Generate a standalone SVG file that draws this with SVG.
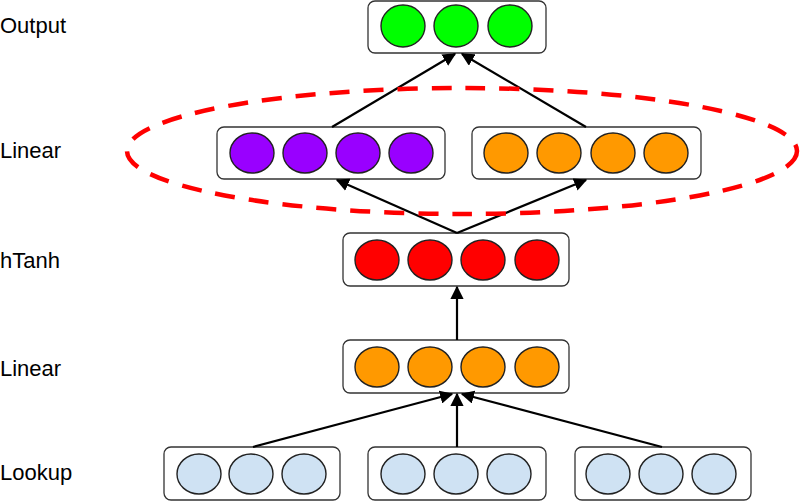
<svg xmlns="http://www.w3.org/2000/svg" width="800" height="502" viewBox="0 0 800 502">
<defs>
<style>
.box{fill:#fff;stroke:#333;stroke-width:1.3}
.c{stroke:#222;stroke-width:1.4}
.g{fill:#00ff00}.p{fill:#9900ff}.o{fill:#ff9900}.r{fill:#ff0000}.b{fill:#cfe2f3}
.lbl{font-family:"Liberation Sans",Arial,sans-serif;font-size:22px;fill:#000}
.e{stroke:#000;stroke-width:2.2;fill:none;marker-end:url(#ah)}
</style>
<marker id="ah" viewBox="0 0 10 10" refX="9" refY="5" markerWidth="6" markerHeight="6" markerUnits="strokeWidth" orient="auto">
<path d="M0,0 L10,5 L0,10 z" fill="#000"/>
</marker>
</defs>
<rect width="800" height="502" fill="#fff"/>
<g id="labels">
<text class="lbl" x="0" y="33">Output</text>
<text class="lbl" x="0" y="158">Linear</text>
<text class="lbl" x="0" y="268">hTanh</text>
<text class="lbl" x="0" y="376">Linear</text>
<text class="lbl" x="0" y="480">Lookup</text>
</g>
<g id="output">
<rect class="box" x="368" y="1" width="178" height="52" rx="7"/>
<ellipse class="c g" cx="403" cy="26" rx="22" ry="21"/>
<ellipse class="c g" cx="456" cy="26" rx="22" ry="21"/>
<ellipse class="c g" cx="510" cy="26" rx="22" ry="21"/>
</g>
<g id="linear-purple">
<rect class="box" x="217" y="127" width="228" height="52" rx="7"/>
<ellipse class="c p" cx="252" cy="153" rx="22" ry="20"/>
<ellipse class="c p" cx="305" cy="153" rx="22" ry="20"/>
<ellipse class="c p" cx="358" cy="153" rx="22" ry="20"/>
<ellipse class="c p" cx="411" cy="153" rx="22" ry="20"/>
</g>
<g id="linear-orange-top">
<rect class="box" x="472" y="127" width="229" height="52" rx="7"/>
<ellipse class="c o" cx="506" cy="153" rx="22" ry="20"/>
<ellipse class="c o" cx="559" cy="153" rx="22" ry="20"/>
<ellipse class="c o" cx="613" cy="153" rx="22" ry="20"/>
<ellipse class="c o" cx="666" cy="153" rx="22" ry="20"/>
</g>
<g id="htanh">
<rect class="box" x="343" y="233" width="226" height="53" rx="7"/>
<ellipse class="c r" cx="377" cy="260" rx="22" ry="20"/>
<ellipse class="c r" cx="430" cy="260" rx="22" ry="20"/>
<ellipse class="c r" cx="483" cy="260" rx="22" ry="20"/>
<ellipse class="c r" cx="537" cy="260" rx="22" ry="20"/>
</g>
<g id="linear-orange-bottom">
<rect class="box" x="343" y="340" width="226" height="53" rx="7"/>
<ellipse class="c o" cx="377" cy="367" rx="22" ry="20"/>
<ellipse class="c o" cx="430" cy="367" rx="22" ry="20"/>
<ellipse class="c o" cx="483" cy="367" rx="22" ry="20"/>
<ellipse class="c o" cx="537" cy="367" rx="22" ry="20"/>
</g>
<g id="lookup-1">
<rect class="box" x="164" y="447" width="176" height="53" rx="7"/>
<ellipse class="c b" cx="199" cy="474" rx="22" ry="20"/>
<ellipse class="c b" cx="251" cy="474" rx="22" ry="20"/>
<ellipse class="c b" cx="304" cy="474" rx="22" ry="20"/>
</g>
<g id="lookup-2">
<rect class="box" x="368" y="447" width="178" height="53" rx="7"/>
<ellipse class="c b" cx="403" cy="474" rx="22" ry="20"/>
<ellipse class="c b" cx="456" cy="474" rx="22" ry="20"/>
<ellipse class="c b" cx="509" cy="474" rx="22" ry="20"/>
</g>
<g id="lookup-3">
<rect class="box" x="575" y="447" width="176" height="53" rx="7"/>
<ellipse class="c b" cx="608" cy="474" rx="22" ry="20"/>
<ellipse class="c b" cx="661" cy="474" rx="22" ry="20"/>
<ellipse class="c b" cx="714" cy="474" rx="22" ry="20"/>
</g>
<g id="connectors">
<line class="e" x1="253" y1="447" x2="452" y2="394"/>
<line class="e" x1="457" y1="447" x2="457" y2="394"/>
<line class="e" x1="662" y1="447" x2="462" y2="394"/>
<line class="e" x1="457" y1="340" x2="457" y2="287"/>
<line class="e" x1="457" y1="233" x2="337" y2="180"/>
<line class="e" x1="457" y1="233" x2="586" y2="180"/>
<line class="e" x1="332" y1="127" x2="455" y2="54"/>
<line class="e" x1="586" y1="127" x2="462" y2="54"/>
</g>
<g id="highlight">
<ellipse cx="462" cy="151" rx="335" ry="63" fill="none" stroke="#ff0000" stroke-width="4.5" stroke-dasharray="20,14"/>
</g>
</svg>
